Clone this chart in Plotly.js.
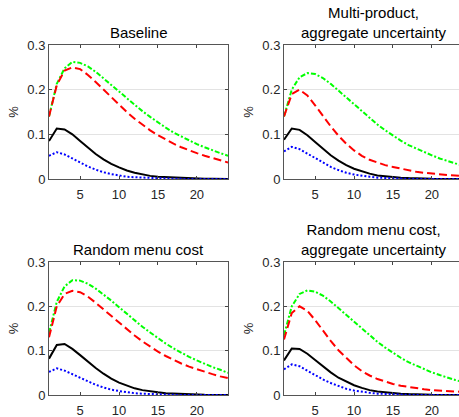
<!DOCTYPE html>
<html><head><meta charset="utf-8">
<script src="https://cdn.plot.ly/plotly-3.0.1.min.js"></script>
<style>html,body{margin:0;padding:0;overflow:hidden;background:#fff}#c{width:464px;height:417px}</style>
</head><body><div id="c"></div>
<script>
const horizon = [1,2,3,4,5,6,7,8,9,10,11,12,13,14,15,16,17,18,19,20,21,22,23,24];
const panelTitles = ["Baseline", "Multi-product,<br>aggregate uncertainty", "Random menu cost", "Random menu cost,<br>aggregate uncertainty"];
const xTicks = [5,10,15,20];
const yTicks = [0,0.1,0.2,0.3];
const yTickText = ['0','0.1','0.2','0.3'];

// Panel 1: Baseline
const p1Green = [0.14,0.213,0.248,0.262,0.26,0.252,0.24,0.226,0.211,0.196,0.181,0.166,0.152,0.139,0.126,0.115,0.104,0.095,0.086,0.078,0.071,0.064,0.058,0.052];
const p1Red   = [0.14,0.21,0.243,0.25,0.246,0.233,0.217,0.2,0.183,0.166,0.15,0.135,0.121,0.109,0.098,0.088,0.079,0.071,0.064,0.058,0.052,0.047,0.042,0.037];
const p1Black = [0.085,0.113,0.111,0.1,0.085,0.07,0.056,0.044,0.034,0.026,0.019,0.014,0.01,0.007,0.005,0.004,0.003,0.002,0.001,0.001,0.0005,0.0003,0.0002,0.0001];
const p1Blue  = [0.052,0.06,0.055,0.046,0.037,0.028,0.021,0.015,0.011,0.008,0.005,0.004,0.003,0.002,0.001,0.001,0.0005,0.0003,0.0002,0.0001,0,0,0,0];

// Panel 2: Multi-product, aggregate uncertainty
const p2Green = [0.14,0.2,0.228,0.237,0.235,0.226,0.213,0.198,0.182,0.166,0.151,0.136,0.122,0.109,0.097,0.086,0.076,0.068,0.06,0.053,0.046,0.04,0.035,0.03];
const p2Red   = [0.14,0.19,0.2,0.187,0.165,0.141,0.118,0.097,0.079,0.064,0.052,0.043,0.037,0.031,0.027,0.023,0.019,0.016,0.014,0.012,0.01,0.009,0.008,0.007];
const p2Black = [0.088,0.113,0.11,0.098,0.083,0.067,0.053,0.041,0.031,0.023,0.017,0.012,0.008,0.006,0.004,0.003,0.002,0.001,0.0005,0.0003,0.0002,0.0001,0,0];
const p2Blue  = [0.062,0.072,0.067,0.057,0.046,0.036,0.027,0.02,0.014,0.01,0.007,0.005,0.003,0.002,0.001,0.0005,0.0003,0.0002,0.0001,0,0,0,0,0];

// Panel 3: Random menu cost
const p3Green = [0.14,0.21,0.245,0.259,0.258,0.251,0.24,0.227,0.213,0.198,0.183,0.168,0.154,0.141,0.128,0.116,0.105,0.095,0.086,0.078,0.07,0.063,0.057,0.05];
const p3Red   = [0.13,0.2,0.228,0.235,0.232,0.222,0.208,0.193,0.178,0.163,0.148,0.134,0.121,0.109,0.098,0.088,0.079,0.071,0.064,0.058,0.052,0.047,0.042,0.038];
const p3Black = [0.082,0.113,0.115,0.104,0.09,0.075,0.061,0.048,0.037,0.028,0.021,0.015,0.011,0.008,0.006,0.004,0.003,0.002,0.001,0.0005,0.0003,0.0002,0.0001,0];
const p3Blue  = [0.052,0.06,0.055,0.047,0.038,0.03,0.023,0.017,0.012,0.009,0.006,0.004,0.003,0.002,0.001,0.0005,0.0003,0.0002,0.0001,0,0,0,0,0];

// Panel 4: Random menu cost, aggregate uncertainty
const p4Green = [0.135,0.2,0.228,0.236,0.233,0.224,0.211,0.196,0.18,0.164,0.149,0.134,0.12,0.107,0.095,0.084,0.074,0.066,0.058,0.051,0.045,0.039,0.034,0.029];
const p4Red   = [0.125,0.185,0.2,0.19,0.169,0.145,0.122,0.101,0.083,0.067,0.054,0.044,0.036,0.03,0.025,0.021,0.018,0.015,0.013,0.011,0.01,0.009,0.008,0.007];
const p4Black = [0.078,0.105,0.104,0.093,0.079,0.064,0.051,0.039,0.03,0.022,0.016,0.011,0.008,0.006,0.004,0.003,0.002,0.001,0.0005,0.0003,0.0002,0.0001,0,0];
const p4Blue  = [0.058,0.069,0.065,0.055,0.045,0.035,0.027,0.02,0.014,0.01,0.007,0.005,0.003,0.002,0.001,0.0005,0.0003,0.0002,0.0001,0,0,0,0,0];

const panels = [
  [p1Green,p1Red,p1Black,p1Blue],
  [p2Green,p2Red,p2Black,p2Blue],
  [p3Green,p3Red,p3Black,p3Blue],
  [p4Green,p4Red,p4Black,p4Blue]
];
const styles = [
  {color:'#00ff00', dash:'5px,2px,2px,2px', width:2},
  {color:'#ff0000', dash:'8px,4px', width:2},
  {color:'#000000', dash:'solid', width:2},
  {color:'#0000ff', dash:'2px,2px', width:2}
];

const W = 464, H = 417;
const xDom = [[49/W, 228/W],[284/W, 463/W]];
const yDom = [[1-179/H, 1-45/H],[1-395/H, 1-262/H]];

const data = [];
const layout = {
  width: W, height: H,
  margin:{l:0,r:0,t:0,b:0},
  showlegend:false,
  paper_bgcolor:'#fff', plot_bgcolor:'#fff',
  font:{family:'"Liberation Sans", Arial, Helvetica, sans-serif', color:'#262626', size:13},
  annotations:[]
};

panels.forEach((series, i) => {
  const n = i+1;
  const xa = 'x'+(n===1?'':n), ya = 'y'+(n===1?'':n);
  series.forEach((vals, k) => {
    data.push({x:horizon, y:vals, type:'scatter', mode:'lines', xaxis:xa, yaxis:ya,
      line:{color:styles[k].color, dash:styles[k].dash, width:styles[k].width}, hoverinfo:'skip'});
  });
  const col = i % 2, row = Math.floor(i/2);
  layout['xaxis'+(n===1?'':n)] = {
    domain:xDom[col], range:[1,24], tickvals:xTicks, ticks:'inside', ticklen:3, tickcolor:'#444',
    showline:true, linecolor:'#555', linewidth:1, mirror:'ticks', showgrid:false, zeroline:false,
    anchor:ya, ticklabelstandoff:3, tickfont:{size:13, color:'#262626'}
  };
  layout['yaxis'+(n===1?'':n)] = {
    domain:yDom[row], range:[0,0.3], tickvals:yTicks, ticktext:yTickText,
    ticks:'inside', ticklen:3, tickcolor:'#444',
    showline:true, linecolor:'#555', linewidth:1, mirror:'ticks', showgrid:true, gridcolor:'#e3e3e3', gridwidth:1,
    zeroline:false, anchor:xa, tickfont:{size:13, color:'#262626'},
    title:{text:'%', font:{size:13, color:'#262626'}, standoff:5}
  };
  layout.annotations.push({
    text:panelTitles[i], xref:'paper', yref:'paper',
    x:(xDom[col][0]+xDom[col][1])/2, y:yDom[row][1], xanchor:'center', yanchor:'bottom',
    yshift:2, showarrow:false, font:{size:15, color:'#000'}
  });
});

Plotly.newPlot('c', data, layout, {staticPlot:true, displayModeBar:false});
</script></body></html>
